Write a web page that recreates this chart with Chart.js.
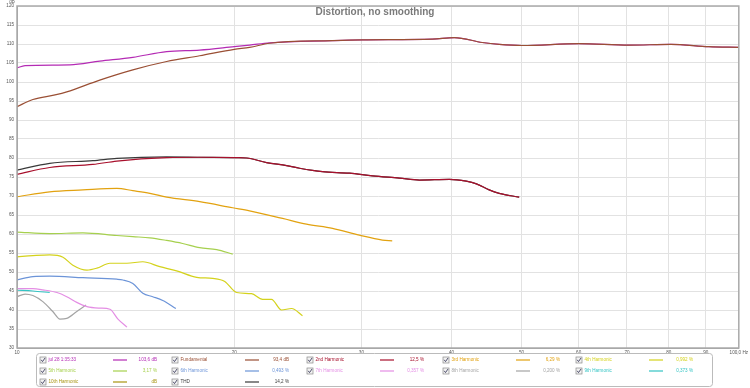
<!DOCTYPE html>
<html lang="en">

<head>
    <meta charset="UTF-8">
    <title>Distortion, no smoothing</title>
    <script src="https://cdn.jsdelivr.net/npm/chart.js"></script>
    <style>
        body { margin: 0; background: #fff; }
        #wrap { width: 750px; height: 388px; }
    </style>
</head>

<body>
    <div id="wrap"><canvas id="distChart" width="750" height="388"></canvas></div>

    <script>
        // frequency (Hz) / level (dB) pairs
        const totalHz = [10, 10.26, 11.84, 13.02, 14.47, 16.12, 17.91, 20, 21, 22.38, 27.36, 30.1, 37.62, 40.35, 44.1, 46.56, 50.1, 60.07, 70.44, 80.5, 90.9, 100];
        const totalDb = [103.7, 104.3, 104.5, 105.5, 106.5, 108, 108.4, 109.3, 109.7, 110.3, 110.9, 111.1, 111.3, 111.7, 110.4, 109.9, 109.6, 110.1, 109.7, 109.9, 109.3, 109.1];

        const fundHz = [10, 10.52, 11.29, 11.72, 13.02, 14.47, 16.12, 17.91, 20, 21, 22.38, 27.36, 30.1, 37.62, 40.35, 44.1, 46.56, 50.1, 60.07, 70.44, 80.5, 90.9, 100];
        const fundDb = [93.5, 95.4, 96.6, 97.4, 100.5, 103.2, 105.4, 106.9, 108.6, 109.1, 110.2, 110.9, 111.1, 111.3, 111.7, 110.4, 109.9, 109.6, 110.1, 109.7, 109.9, 109.3, 109.1];

        const h2Hz = [10, 11.1, 12.74, 13.75, 16.12, 17.91, 20.15, 20.8, 22.17, 23.63, 24.63, 26.5, 28.88, 31.08, 33.87, 36.1, 39.72, 41.92, 43.3, 45.1, 46.56, 49.63];
        const h2Db = [75.7, 77.5, 78.3, 79.2, 80.1, 80.2, 80.1, 80.0, 78.8, 78.0, 77.3, 76.4, 76.0, 75.3, 74.7, 74.2, 74.4, 73.9, 73.2, 71.6, 70.7, 69.7];

        const thdHz = [10, 11.1, 12.74, 13.75, 16.12, 17.91, 20.15, 20.8, 22.17, 23.63, 24.63, 26.5, 28.88, 31.08, 33.87, 36.1, 39.72, 41.92, 43.3, 45.1, 46.56, 49.63];
        const thdDb = [76.8, 78.6, 79.3, 79.9, 80.3, 80.2, 80.1, 80.0, 78.8, 78.0, 77.3, 76.4, 76.0, 75.3, 74.7, 74.2, 74.4, 73.9, 73.2, 71.6, 70.7, 69.7];

        const h3Hz = [10, 11.1, 12.34, 13.75, 14.47, 15.28, 16.12, 17.91, 19.9, 21, 23.33, 25.18, 27.36, 29.8, 32.08, 33.1];
        const h3Db = [69.8, 71.1, 71.6, 72.0, 71.4, 70.7, 69.7, 68.5, 66.9, 66.1, 64.1, 62.6, 61.5, 59.7, 58.4, 58.2];

        const h4Hz = [10, 10.52, 11.1, 11.58, 11.95, 12.5, 12.9, 13.45, 14.2, 14.94, 15.77, 16.64, 17.74, 18.67, 19.4, 20.15, 21.13, 21.89, 22.52, 23.25, 24.01, 24.86];
        const h4Db = [54.0, 54.3, 54.5, 53.9, 51.8, 50.5, 51.0, 52.3, 52.3, 52.7, 51.4, 50.3, 48.6, 48.3, 47.5, 44.6, 44.3, 42.8, 42.8, 40.0, 40.4, 38.5];

        const h5Hz = [10, 11.1, 12.34, 13.75, 14.47, 15.28, 16.12, 16.96, 17.91, 18.91, 19.9];
        const h5Db = [60.5, 60.1, 60.3, 59.6, 59.3, 59.0, 58.3, 57.5, 56.4, 55.9, 54.7];

        const h6Hz = [10, 10.52, 11.1, 12.34, 13.75, 14.02, 14.47, 14.94, 15.42, 15.92, 16.6];
        const h6Db = [47.9, 48.8, 48.9, 48.5, 48.1, 47.9, 47.0, 44.4, 43.5, 42.5, 40.4];

        const h7Hz = [10, 10.52, 10.86, 11.36, 11.72, 12.1, 12.5, 13.02, 13.45, 13.8, 14.2];
        const h7Db = [45.6, 45.6, 45.3, 44.6, 43.5, 42.0, 40.9, 40.5, 40.2, 37.6, 35.5];

        const h8Hz = [10, 10.26, 10.52, 10.86, 11.21, 11.47, 11.72, 12.1, 12.46];
        const h8Db = [43.5, 44.2, 43.8, 42.2, 39.6, 37.6, 37.8, 39.6, 41.3];

        const h9Hz = [10, 10.52, 11.1];
        const h9Db = [45.2, 45.0, 44.6];

        const h10Hz = [];
        const h10Db = [];

        const seriesNames = ['jul 28 1:35:33', 'Fundamental', '2nd Harmonic', '3rd Harmonic', '4th Harmonic',
            '5th Harmonic', '6th Harmonic', '7th Harmonic', '8th Harmonic', '9th Harmonic', '10th Harmonic', 'THD'];
        const seriesReadout = ['103,6 dB', '93,4 dB', '12,5 %', '6,29 %', '0,992 %',
            '3,17 %', '0,493 %', '0,357 %', '0,200 %', '0,373 %', 'dB', '14,2 %'];
        const seriesColors = ['#b42bb4', '#9a4f34', '#a8102c', '#e2a210', '#d4d21c',
            '#a6d04e', '#6c94d8', '#e48ee4', '#a4a4a4', '#34c4c4', '#a89410', '#3a3a3a'];
        const seriesHz = [totalHz, fundHz, h2Hz, h3Hz, h4Hz, h5Hz, h6Hz, h7Hz, h8Hz, h9Hz, h10Hz, thdHz];
        const seriesDb = [totalDb, fundDb, h2Db, h3Db, h4Db, h5Db, h6Db, h7Db, h8Db, h9Db, h10Db, thdDb];
        // lower number is drawn on top
        const seriesOrder = [3, 1, 2, 4, 4, 4, 4, 4, 4, 4, 4, 3];

        const xTicks = [10, 20, 30, 40, 50, 60, 70, 80, 90, 100];

        const tinyFont = '4.6px "Liberation Sans", Arial, sans-serif';

        const datasets = seriesNames.map((name, i) => ({
            label: name,
            data: seriesHz[i].map((f, j) => ({ x: f, y: seriesDb[i][j] })),
            borderColor: seriesColors[i],
            borderWidth: 1.2,
            pointRadius: 0,
            cubicInterpolationMode: 'monotone',
            fill: false,
            order: seriesOrder[i]
        }));

        // title, dB unit, frame and the REW style legend box
        const decorations = {
            id: 'decorations',
            afterDraw(chart) {
                const ctx = chart.ctx;
                const a = chart.chartArea;
                ctx.save();

                ctx.strokeStyle = '#aaaaaa';
                ctx.lineWidth = 1.5;
                ctx.strokeRect(a.left, a.top, a.right - a.left, a.bottom - a.top);

                ctx.fillStyle = '#7a7a7a';
                ctx.font = 'bold 10px "Liberation Sans", Arial, sans-serif';
                ctx.textAlign = 'center';
                ctx.textBaseline = 'middle';
                ctx.fillText('Distortion, no smoothing', 375, 12);

                ctx.fillStyle = '#666';
                ctx.font = tinyFont;
                ctx.fillText('dB', 12, 1.8);

                // legend
                ctx.strokeStyle = '#bbbbbb';
                ctx.lineWidth = 1;
                ctx.beginPath();
                ctx.roundRect(36.5, 353.5, 676, 33, 3);
                ctx.stroke();

                const colX = [43, 175, 310, 446, 579];
                const rowY = [360, 371, 382];
                seriesNames.forEach((name, i) => {
                    const x = colX[i % 5];
                    const y = rowY[Math.floor(i / 5)];

                    ctx.fillStyle = '#f2f2f2';
                    ctx.fillRect(x - 3, y - 3, 6, 6);
                    ctx.strokeStyle = '#8a8a8a';
                    ctx.lineWidth = 0.7;
                    ctx.strokeRect(x - 3, y - 3, 6, 6);
                    ctx.strokeStyle = '#404060';
                    ctx.lineWidth = 0.9;
                    ctx.beginPath();
                    ctx.moveTo(x - 1.8, y - 0.2);
                    ctx.lineTo(x - 0.5, y + 1.6);
                    ctx.lineTo(x + 2, y - 2);
                    ctx.stroke();

                    ctx.fillStyle = seriesColors[i];
                    ctx.font = tinyFont;
                    ctx.textAlign = 'left';
                    ctx.textBaseline = 'middle';
                    ctx.fillText(name, x + 5.5, y);

                    ctx.strokeStyle = seriesColors[i];
                    ctx.lineWidth = 1.2;
                    ctx.beginPath();
                    ctx.moveTo(x + 70, y);
                    ctx.lineTo(x + 84, y);
                    ctx.stroke();

                    ctx.textAlign = 'right';
                    ctx.fillText(seriesReadout[i], x + 114, y);
                });

                ctx.restore();
            }
        };

        new Chart(document.getElementById('distChart'), {
            type: 'line',
            data: { datasets },
            options: {
                responsive: false,
                animation: false,
                layout: { padding: { left: 0, right: 10, top: 6, bottom: 30 } },
                plugins: {
                    legend: { display: false },
                    tooltip: { enabled: false }
                },
                scales: {
                    x: {
                        type: 'logarithmic',
                        min: 10,
                        max: 100,
                        afterBuildTicks: s => { s.ticks = xTicks.map(v => ({ value: v })); },
                        afterFit: s => { s.height = 10; },
                        grid: { color: '#e2e2e2', drawTicks: false },
                        border: { color: '#a0a0a0' },
                        ticks: {
                            autoSkip: false,
                            maxRotation: 0,
                            padding: 2,
                            color: '#555',
                            font: { family: '"Liberation Sans", Arial, sans-serif', size: 4.6 },
                            callback: v => v === 100 ? '100,0 Hz' : String(v)
                        }
                    },
                    y: {
                        min: 30,
                        max: 120,
                        afterFit: s => { s.width = 17; },
                        grid: { color: '#e2e2e2', drawTicks: false },
                        border: { color: '#a0a0a0' },
                        ticks: {
                            stepSize: 5,
                            autoSkip: false,
                            padding: 3,
                            color: '#555',
                            font: { family: '"Liberation Sans", Arial, sans-serif', size: 4.6 }
                        }
                    }
                }
            },
            plugins: [decorations]
        });
    </script>
</body>

</html>
